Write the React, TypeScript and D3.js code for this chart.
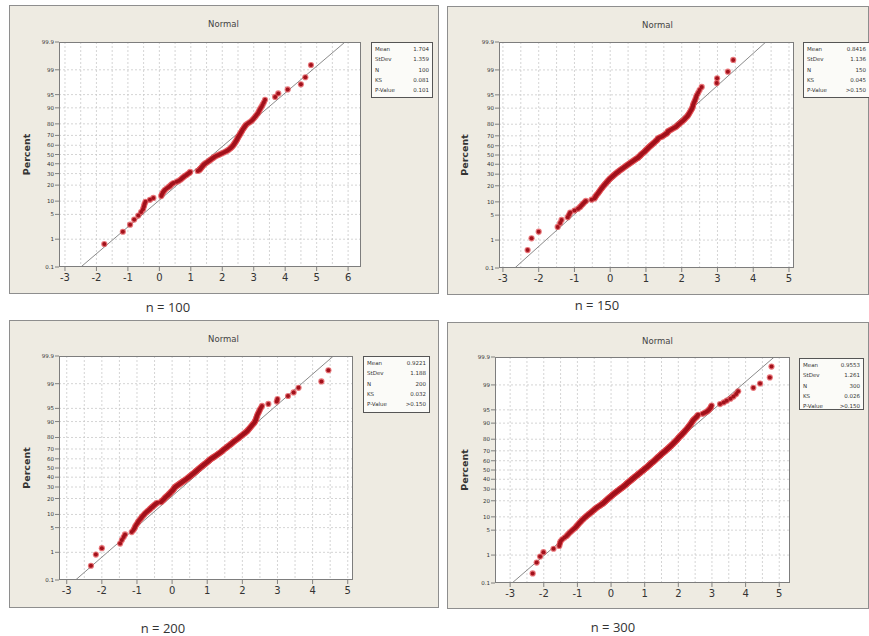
import React from "react";
import * as d3 from "d3";

const yTickValues = [0.1, 1, 5, 10, 20, 30, 40, 50, 60, 70, 80, 90, 95, 99, 99.9];
const yTickLabels = ["0.1", "1", "5", "10", "20", "30", "40", "50", "60", "70", "80", "90", "95", "99", "99.9"];

const sample100 = [
  -1.75, -1.16, -0.93, -0.8, -0.67, -0.58, -0.52, -0.49, -0.47, -0.44,
  -0.3, -0.19, 0.06, 0.08, 0.11, 0.14, 0.18, 0.24, 0.3, 0.35,
  0.39, 0.45, 0.55, 0.62, 0.68, 0.72, 0.76, 0.8, 0.86, 0.9,
  0.95, 0.98, 1.22, 1.28, 1.3, 1.33, 1.35, 1.38, 1.4, 1.43,
  1.47, 1.52, 1.56, 1.6, 1.64, 1.68, 1.72, 1.76, 1.82, 1.88,
  1.94, 2.0, 2.06, 2.12, 2.17, 2.21, 2.25, 2.28, 2.31, 2.34,
  2.36, 2.38, 2.4, 2.42, 2.44, 2.46, 2.48, 2.49, 2.51, 2.53,
  2.55, 2.57, 2.59, 2.61, 2.63, 2.65, 2.68, 2.7, 2.73, 2.76,
  2.82, 2.88, 2.94, 2.98, 3.02, 3.06, 3.1, 3.14, 3.17, 3.2,
  3.24, 3.28, 3.32, 3.36, 3.68, 3.78, 4.08, 4.5, 4.64, 4.82,
];

const sample150 = [
  -2.31, -2.2, -2.0, -1.47, -1.4, -1.36, -1.19, -1.15, -1.12, -1.0,
  -0.9, -0.84, -0.8, -0.76, -0.72, -0.68, -0.52, -0.44, -0.42, -0.4,
  -0.38, -0.35, -0.33, -0.31, -0.29, -0.27, -0.25, -0.23, -0.21, -0.19,
  -0.17, -0.15, -0.13, -0.11, -0.09, -0.07, -0.05, -0.03, -0.01, 0.01,
  0.04, 0.06, 0.08, 0.1, 0.13, 0.15, 0.17, 0.2, 0.22, 0.25,
  0.27, 0.3, 0.32, 0.35, 0.37, 0.4, 0.42, 0.45, 0.47, 0.5,
  0.52, 0.55, 0.57, 0.6, 0.62, 0.65, 0.67, 0.7, 0.72, 0.75,
  0.78, 0.79, 0.81, 0.83, 0.85, 0.86, 0.88, 0.9, 0.92, 0.94,
  0.96, 0.98, 0.99, 1.01, 1.03, 1.05, 1.06, 1.08, 1.1, 1.12,
  1.14, 1.16, 1.18, 1.2, 1.22, 1.24, 1.26, 1.28, 1.3, 1.32,
  1.33, 1.34, 1.38, 1.42, 1.46, 1.49, 1.52, 1.55, 1.58, 1.6,
  1.61, 1.62, 1.66, 1.7, 1.74, 1.78, 1.82, 1.85, 1.88, 1.9,
  1.93, 1.96, 1.99, 2.02, 2.05, 2.08, 2.1, 2.13, 2.16, 2.18,
  2.2, 2.22, 2.24, 2.26, 2.28, 2.3, 2.31, 2.32, 2.34, 2.36,
  2.38, 2.4, 2.42, 2.46, 2.5, 2.56, 2.98, 2.99, 3.29, 3.44,
];

const sample200 = [
  -2.31, -2.17, -2.0, -1.48, -1.43, -1.38, -1.34, -1.15, -1.1, -1.07,
  -1.05, -1.02, -0.99, -0.97, -0.94, -0.91, -0.88, -0.86, -0.83, -0.8,
  -0.78, -0.75, -0.72, -0.69, -0.66, -0.63, -0.61, -0.58, -0.55, -0.53,
  -0.5, -0.48, -0.45, -0.42, -0.32, -0.3, -0.28, -0.26, -0.24, -0.22,
  -0.21, -0.19, -0.17, -0.15, -0.13, -0.11, -0.1, -0.08, -0.06, -0.05,
  -0.03, -0.02, 0.0, 0.01, 0.03, 0.04, 0.05, 0.06, 0.07, 0.08,
  0.1, 0.12, 0.14, 0.16, 0.18, 0.2, 0.22, 0.24, 0.26, 0.28,
  0.3, 0.32, 0.34, 0.36, 0.38, 0.4, 0.42, 0.44, 0.45, 0.47,
  0.49, 0.5, 0.52, 0.54, 0.55, 0.57, 0.58, 0.6, 0.62, 0.63,
  0.65, 0.66, 0.68, 0.69, 0.71, 0.72, 0.74, 0.75, 0.77, 0.78,
  0.8, 0.81, 0.83, 0.85, 0.86, 0.88, 0.89, 0.91, 0.93, 0.94,
  0.96, 0.98, 0.99, 1.01, 1.02, 1.04, 1.05, 1.07, 1.08, 1.1,
  1.12, 1.14, 1.16, 1.18, 1.2, 1.22, 1.24, 1.26, 1.28, 1.3,
  1.32, 1.34, 1.36, 1.38, 1.4, 1.42, 1.43, 1.45, 1.46, 1.48,
  1.5, 1.52, 1.54, 1.56, 1.58, 1.6, 1.62, 1.64, 1.66, 1.68,
  1.7, 1.72, 1.74, 1.76, 1.78, 1.8, 1.83, 1.85, 1.88, 1.9,
  1.92, 1.94, 1.97, 1.99, 2.02, 2.04, 2.07, 2.09, 2.12, 2.14,
  2.16, 2.18, 2.2, 2.22, 2.24, 2.26, 2.28, 2.3, 2.33, 2.35,
  2.36, 2.38, 2.39, 2.4, 2.41, 2.42, 2.44, 2.46, 2.48, 2.5,
  2.53, 2.56, 2.74, 2.98, 3.0, 3.3, 3.46, 3.6, 4.25, 4.45,
];

const sample300 = [
  -2.33, -2.21, -2.11, -2.01, -1.71, -1.54, -1.52, -1.5, -1.45, -1.38,
  -1.32, -1.28, -1.24, -1.2, -1.16, -1.12, -1.08, -1.05, -1.02, -1.0,
  -0.97, -0.95, -0.93, -0.9, -0.88, -0.86, -0.83, -0.81, -0.79, -0.76,
  -0.74, -0.72, -0.69, -0.67, -0.65, -0.62, -0.6, -0.58, -0.56, -0.54,
  -0.52, -0.5, -0.48, -0.46, -0.44, -0.42, -0.4, -0.38, -0.35, -0.33,
  -0.31, -0.29, -0.27, -0.25, -0.23, -0.22, -0.2, -0.19, -0.17, -0.16,
  -0.15, -0.13, -0.12, -0.1, -0.09, -0.08, -0.06, -0.05, -0.03, -0.02,
  0.0, 0.01, 0.02, 0.04, 0.05, 0.06, 0.08, 0.09, 0.11, 0.12,
  0.13, 0.15, 0.16, 0.18, 0.19, 0.2, 0.22, 0.23, 0.25, 0.26,
  0.27, 0.29, 0.3, 0.32, 0.33, 0.34, 0.36, 0.37, 0.38, 0.39,
  0.4, 0.42, 0.43, 0.44, 0.45, 0.46, 0.47, 0.48, 0.49, 0.51,
  0.52, 0.53, 0.54, 0.55, 0.56, 0.58, 0.59, 0.6, 0.61, 0.62,
  0.63, 0.64, 0.65, 0.67, 0.68, 0.69, 0.7, 0.71, 0.72, 0.73,
  0.74, 0.76, 0.77, 0.78, 0.79, 0.8, 0.81, 0.82, 0.83, 0.85,
  0.86, 0.87, 0.88, 0.89, 0.9, 0.91, 0.92, 0.94, 0.95, 0.96,
  0.97, 0.98, 0.99, 1.0, 1.01, 1.02, 1.03, 1.05, 1.06, 1.07,
  1.08, 1.09, 1.1, 1.11, 1.12, 1.13, 1.14, 1.15, 1.16, 1.17,
  1.18, 1.19, 1.2, 1.21, 1.22, 1.24, 1.25, 1.26, 1.27, 1.28,
  1.29, 1.3, 1.31, 1.32, 1.33, 1.34, 1.35, 1.36, 1.37, 1.38,
  1.39, 1.4, 1.41, 1.42, 1.44, 1.45, 1.46, 1.47, 1.48, 1.49,
  1.5, 1.51, 1.52, 1.54, 1.55, 1.56, 1.57, 1.58, 1.6, 1.61,
  1.62, 1.63, 1.64, 1.66, 1.67, 1.68, 1.69, 1.7, 1.72, 1.73,
  1.74, 1.75, 1.76, 1.78, 1.79, 1.8, 1.81, 1.82, 1.84, 1.85,
  1.86, 1.87, 1.88, 1.9, 1.91, 1.92, 1.93, 1.94, 1.96, 1.97,
  1.98, 1.99, 2.0, 2.01, 2.02, 2.04, 2.05, 2.06, 2.08, 2.09,
  2.11, 2.12, 2.13, 2.15, 2.16, 2.18, 2.19, 2.2, 2.22, 2.23,
  2.25, 2.26, 2.28, 2.29, 2.3, 2.32, 2.33, 2.35, 2.36, 2.38,
  2.39, 2.4, 2.42, 2.43, 2.45, 2.47, 2.5, 2.52, 2.55, 2.57,
  2.59, 2.72, 2.78, 2.84, 2.88, 2.92, 2.95, 2.97, 2.99, 3.24,
  3.35, 3.44, 3.55, 3.64, 3.72, 3.78, 4.23, 4.43, 4.72, 4.77,
];

const sampleLabels = ["n = 100", "n = 150", "n = 200", "n = 300"];
const fitMeans = [1.704, 0.8416, 0.9221, 0.9553];
const fitStdevs = [1.359, 1.136, 1.188, 1.261];
const statNames = ["Mean", "StDev", "N", "KS", "P-Value"];
const statValues100 = ["1.704", "1.359", "100", "0.081", "0.101"];
const statValues150 = ["0.8416", "1.136", "150", "0.045", ">0.150"];
const statValues200 = ["0.9221", "1.188", "200", "0.032", ">0.150"];
const statValues300 = ["0.9553", "1.261", "300", "0.026", ">0.150"];
const xTicks100 = [-3, -2, -1, 0, 1, 2, 3, 4, 5, 6];
const xTicksOther = [-3, -2, -1, 0, 1, 2, 3, 4, 5];

// inverse standard normal CDF (Acklam)
function probit(p: number): number {
  const a = [-3.969683028665376e1, 2.209460984245205e2, -2.759285104469687e2, 1.38357751867269e2, -3.066479806614716e1, 2.506628277459239];
  const b = [-5.447609879822406e1, 1.615858368580409e2, -1.556989798598866e2, 6.680131188771972e1, -1.328068155922803e1];
  const c = [-7.784894002430293e-3, -3.223964580411365e-1, -2.400758277161838, -2.549732539343734, 4.374664141464968, 2.938163982698783];
  const d = [7.784695709041462e-3, 3.224671290700398e-1, 2.445134137142996, 3.754408661907416];
  const plow = 0.02425;
  if (p < plow) {
    const q = Math.sqrt(-2 * Math.log(p));
    return (((((c[0] * q + c[1]) * q + c[2]) * q + c[3]) * q + c[4]) * q + c[5]) / ((((d[0] * q + d[1]) * q + d[2]) * q + d[3]) * q + 1);
  }
  if (p > 1 - plow) {
    const q = Math.sqrt(-2 * Math.log(1 - p));
    return -(((((c[0] * q + c[1]) * q + c[2]) * q + c[3]) * q + c[4]) * q + c[5]) / ((((d[0] * q + d[1]) * q + d[2]) * q + d[3]) * q + 1);
  }
  const q = p - 0.5;
  const r = q * q;
  return ((((((a[0] * r + a[1]) * r + a[2]) * r + a[3]) * r + a[4]) * r + a[5]) * q) / (((((b[0] * r + b[1]) * r + b[2]) * r + b[3]) * r + b[4]) * r + 1);
}

type Layout = {
  frame: [number, number, number, number];
  plot: [number, number, number, number]; // l, r, t, b
  xDomain: [number, number];
  legend: [number, number, number, number];
  nLabel: [number, number];
};

const layouts: Layout[] = [
  { frame: [9, 5, 429, 288], plot: [59, 361, 42, 267], xDomain: [-3.19, 6.41], legend: [371, 42, 61, 55], nLabel: [168, 312] },
  { frame: [447, 6, 421, 288], plot: [499, 794, 42, 268], xDomain: [-3.11, 5.14], legend: [803, 42, 66, 55], nLabel: [597, 310] },
  { frame: [9, 320, 429, 287], plot: [59, 353, 356, 580], xDomain: [-3.22, 5.15], legend: [363, 356, 66, 56], nLabel: [163, 633] },
  { frame: [447, 322, 421, 286], plot: [495, 790, 357, 583], xDomain: [-3.45, 5.32], legend: [799, 358, 64, 51], nLabel: [613, 632] },
];

const samples = [sample100, sample150, sample200, sample300];
const statValues = [statValues100, statValues150, statValues200, statValues300];
const xTickSets = [xTicks100, xTicksOther, xTicksOther, xTicksOther];

function Panel({ idx }: { idx: number }) {
  const L = layouts[idx];
  const data = samples[idx];
  const n = data.length;
  const [l, r, t, b] = L.plot;
  const zMin = probit(0.001);
  const zMax = probit(0.999);
  const x = d3.scaleLinear().domain(L.xDomain).range([l, r]);
  const y = d3.scaleLinear().domain([zMin, zMax]).range([b, t]);
  const mean = fitMeans[idx];
  const sd = fitStdevs[idx];
  const clipId = `clip-${idx}`;
  const lineGen = d3
    .line<number>()
    .x((z) => x(mean + sd * z))
    .y((z) => y(z));
  const gridX: number[] = [];
  for (let v = Math.ceil(L.xDomain[0] * 2) / 2; v <= L.xDomain[1]; v += 0.5) gridX.push(v);
  const [fx, fy, fw, fh] = L.frame;
  const [lx, ly, lw, lh] = L.legend;
  const pts = data.map((v, i) => ({ cx: x(v), cy: y(probit((i + 1 - 0.3) / (n + 0.4))) }));
  return (
    <g>
      <rect x={fx + 0.5} y={fy + 0.5} width={fw} height={fh} fill="#eeebe2" stroke="#8e8e8e" strokeWidth={1} />
      <text x={fx + fw / 2} y={fy + 22} textAnchor="middle" fontSize={8.5} fill="#444" fontFamily="DejaVu Sans, sans-serif">
        Normal
      </text>
      <rect x={l} y={t} width={r - l} height={b - t} fill="#ffffff" />
      <defs>
        <clipPath id={clipId}>
          <rect x={l} y={t} width={r - l} height={b - t} />
        </clipPath>
      </defs>
      {gridX.map((v, i) => (
        <line key={"gx" + i} x1={x(v)} x2={x(v)} y1={t} y2={b} stroke="#c9c9c9" strokeWidth={0.8} strokeDasharray="2,2" />
      ))}
      {yTickValues.slice(1, -1).map((v, i) => (
        <line key={"gy" + i} x1={l} x2={r} y1={y(probit(v / 100))} y2={y(probit(v / 100))} stroke="#c9c9c9" strokeWidth={0.8} strokeDasharray="2,2" />
      ))}
      <g clipPath={`url(#${clipId})`}>
        <path d={lineGen([zMin, zMax]) || ""} stroke="#8a8a8a" strokeWidth={1} fill="none" />
        {pts.map((p, i) => (
          <circle key={"h" + i} cx={p.cx} cy={p.cy} r={3.1} fill="#e0484d" opacity={0.75} />
        ))}
        {pts.map((p, i) => (
          <circle key={"c" + i} cx={p.cx} cy={p.cy} r={2} fill="#a1111b" />
        ))}
      </g>
      <rect x={l + 0.5} y={t + 0.5} width={r - l - 1} height={b - t - 1} fill="none" stroke="#7d7d7d" strokeWidth={1} />
      {yTickValues.map((v, i) => {
        const yy = y(probit(v / 100));
        return (
          <g key={"yt" + i}>
            <line x1={l - 4} x2={l} y1={yy} y2={yy} stroke="#666" strokeWidth={0.8} />
            <text x={l - 5} y={yy + 2} textAnchor="end" fontSize={5.5} fill="#333" fontFamily="DejaVu Sans, sans-serif">
              {yTickLabels[i]}
            </text>
          </g>
        );
      })}
      {xTickSets[idx].map((v, i) => (
        <g key={"xt" + i}>
          <line x1={x(v)} x2={x(v)} y1={b} y2={b + 4} stroke="#666" strokeWidth={0.8} />
          <text x={x(v)} y={b + 14} textAnchor="middle" fontSize={10} fill="#333" fontFamily="DejaVu Sans, sans-serif">
            {String(v)}
          </text>
        </g>
      ))}
      <text
        transform={`translate(${fx + 21},${(t + b) / 2}) rotate(-90)`}
        textAnchor="middle"
        fontSize={9.5}
        fontWeight="bold"
        fill="#333"
        fontFamily="DejaVu Sans, sans-serif"
      >
        Percent
      </text>
      <rect x={lx + 0.5} y={ly + 0.5} width={lw} height={lh} fill="#fbfbf8" stroke="#555" strokeWidth={1} />
      {statNames.map((s, i) => (
        <g key={"st" + i}>
          <text x={lx + 4} y={ly + 9 + i * 10.3} fontSize={5.5} fill="#333" fontFamily="DejaVu Sans, sans-serif">
            {s}
          </text>
          <text x={lx + lw - 3} y={ly + 9 + i * 10.3} textAnchor="end" fontSize={5.5} fill="#333" fontFamily="DejaVu Sans, sans-serif">
            {statValues[idx][i]}
          </text>
        </g>
      ))}
      <text x={L.nLabel[0]} y={L.nLabel[1]} textAnchor="middle" fontSize={13} fill="#333" fontFamily="Open Sans, sans-serif">
        {sampleLabels[idx]}
      </text>
    </g>
  );
}

export default function App() {
  return (
    <svg
      width={869}
      height={636}
      style={{ position: "absolute", left: 0, top: 0, background: "#ffffff" }}
    >
      <rect x={0} y={0} width={869} height={636} fill="#ffffff" />
      {[0, 1, 2, 3].map((i) => (
        <Panel key={i} idx={i} />
      ))}
    </svg>
  );
}
